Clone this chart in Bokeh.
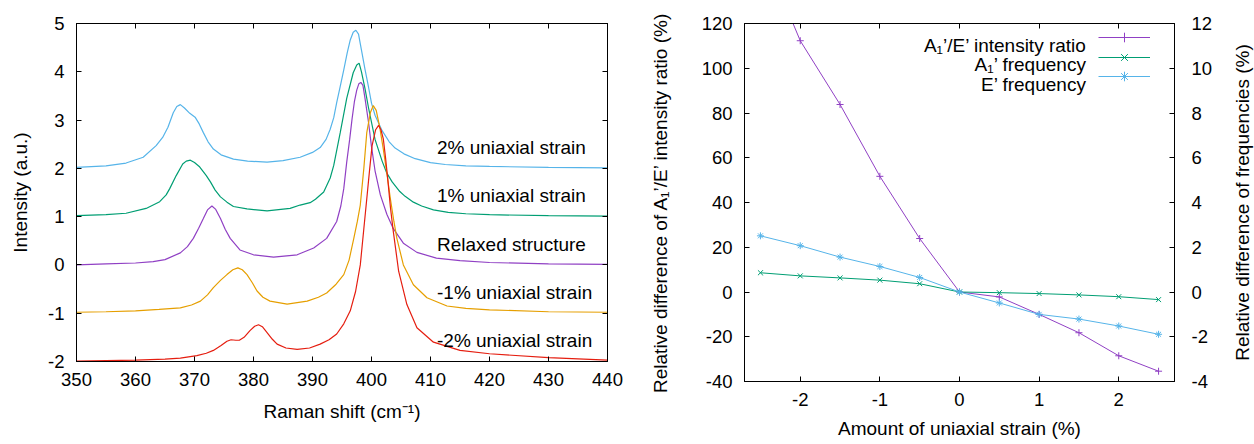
import math
from bokeh.plotting import figure
from bokeh.models import Range1d, LinearAxis, FixedTicker, Label, Legend, LegendItem, Spacer
from bokeh.layouts import row
from bokeh.embed import file_html
from bokeh.resources import INLINE

FONT = "Liberation Sans"
TICK_FS = "18.5px"
LAB_FS = "19px"

PURPLE = "#9040C4"
GREEN = "#009E73"
BLUE = "#56B4E9"
ORANGE = "#E69F00"
RED = "#E51E10"

# ---------------- Left panel: Raman spectra ----------------
raman_ticks = [350, 360, 370, 380, 390, 400, 410, 420, 430, 440]
intensity_ticks = [-2, -1, 0, 1, 2, 3, 4, 5]

shift_p2 = [350, 355, 358.4, 361.3, 363.5, 364.6, 365.5, 366.4, 367.0, 367.6,
            368.3, 369.2, 370.1, 370.8, 371.5, 372.3, 373.2, 374.5, 376.6, 379.0,
            382.3, 385.0, 387.9, 390.0, 391.3, 392.3, 393.0, 393.6, 394.1, 394.7,
            395.3, 395.9, 396.4, 396.9, 397.35, 397.8, 398.3, 398.9, 399.5, 400.0,
            400.6, 401.8, 403.0, 404.0, 405.5, 407.4, 410.0, 412.5, 416.0, 420.0,
            430.0, 440.0]
int_p2 = [2.02, 2.05, 2.11, 2.23, 2.47, 2.64, 2.85, 3.15, 3.28, 3.32,
          3.25, 3.14, 3.06, 2.92, 2.74, 2.55, 2.40, 2.28, 2.19, 2.15,
          2.13, 2.16, 2.23, 2.33, 2.43, 2.60, 2.81, 3.05, 3.36, 3.70,
          4.04, 4.40, 4.66, 4.82, 4.86, 4.78, 4.45, 4.05, 3.68, 3.35,
          3.10, 2.78, 2.55, 2.42, 2.30, 2.20, 2.12, 2.08, 2.05, 2.04,
          2.02, 2.01]

shift_p1 = [350, 355, 358.4, 361.8, 364.1, 365.2, 365.8, 366.9, 368.0, 368.6,
            369.3, 370.0, 370.8, 372.0, 372.7, 373.5, 374.4, 375.5, 376.6, 378.9,
            382.3, 386.2, 387.9, 389.6, 390.5, 391.9, 393.0, 393.6, 394.7, 395.8,
            396.9, 397.5, 397.9, 398.3, 398.9, 399.5, 400.6, 401.8, 402.6, 403.5,
            404.8, 405.7, 407.1, 408.5, 410.5, 413.0, 416.0, 420.0, 430.0, 440.0]
int_p1 = [1.02, 1.04, 1.07, 1.17, 1.31, 1.45, 1.58, 1.85, 2.09, 2.15,
          2.17, 2.12, 2.04, 1.85, 1.72, 1.55, 1.41, 1.30, 1.21, 1.16,
          1.12, 1.17, 1.24, 1.29, 1.36, 1.51, 1.80, 2.06, 2.74, 3.45,
          3.98, 4.14, 4.18, 4.00, 3.65, 3.25, 2.60, 2.15, 1.90, 1.72,
          1.52, 1.42, 1.30, 1.22, 1.14, 1.09, 1.06, 1.04, 1.02, 1.01]

shift_0 = [350, 355, 360, 363, 365, 367.6, 368.8, 369.8, 370.7, 371.5,
           372.2, 372.95, 373.6, 374.4, 375.2, 376.05, 377.7, 380.0, 383.4, 387.4,
           390.2, 392.4, 394.1, 394.8, 395.3, 395.8, 396.3, 396.7, 397.1, 397.5,
           397.85, 398.2, 398.55, 398.9, 399.5, 400.0, 400.6, 401.5, 402.6, 403.7,
           405.4, 407.7, 411.0, 415.0, 420.0, 430.0, 440.0]
int_0 = [0.00, 0.02, 0.04, 0.07, 0.11, 0.25, 0.38, 0.55, 0.76, 0.96,
         1.14, 1.22, 1.15, 0.96, 0.74, 0.55, 0.31, 0.21, 0.16, 0.21,
         0.35, 0.55, 0.90, 1.22, 1.58, 2.13, 2.60, 3.02, 3.38, 3.62,
         3.75, 3.78, 3.72, 3.45, 2.95, 2.45, 1.95, 1.45, 1.05, 0.75,
         0.45, 0.26, 0.14, 0.09, 0.05, 0.02, 0.01]

shift_m1 = [350, 355, 360, 364, 367.6, 369.5, 371.0, 372.2, 373.2, 374.4,
            375.5, 376.5, 377.35, 378.1, 378.9, 379.8, 380.6, 381.6, 382.8, 385.7,
            389.1, 391.0, 392.4, 394.0, 395.3, 396.2, 397.0, 397.6, 398.1, 398.7,
            399.2, 399.8, 400.3, 400.8, 401.4, 402.0, 402.6, 403.2, 403.8, 404.3,
            405.4, 407.1, 409.4, 412.8, 416.0, 420.0, 430.0, 440.0]
int_m1 = [-0.98, -0.97, -0.95, -0.92, -0.89, -0.83, -0.75, -0.62, -0.47, -0.32,
          -0.20, -0.10, -0.06, -0.10, -0.20, -0.37, -0.54, -0.67, -0.75, -0.81,
          -0.75, -0.67, -0.58, -0.40, -0.20, 0.10, 0.55, 0.90, 1.24, 2.00,
          2.74, 3.15, 3.30, 3.20, 2.85, 2.40, 1.90, 1.37, 0.90, 0.55,
          0.00, -0.41, -0.68, -0.85, -0.90, -0.93, -0.97, -0.98]

shift_m2 = [350, 355, 360, 365, 367.6, 370.4, 372.0, 373.2, 374.5, 375.5,
            376.2, 377.0, 377.6, 378.4, 379.4, 380.2, 380.85, 381.5, 382.3, 383.2,
            384.0, 385.5, 387.4, 389.5, 391.3, 392.8, 394.1, 395.3, 396.4, 397.3,
            398.1, 398.7, 399.2, 399.7, 400.1, 400.7, 401.2, 401.6, 402.0, 402.4,
            402.8, 403.2, 403.7, 404.6, 406.0, 407.7, 410.5, 415.0, 420.0, 430.0,
            440.0]
int_m2 = [-1.99, -1.98, -1.97, -1.95, -1.93, -1.88, -1.83, -1.77, -1.67, -1.58,
          -1.55, -1.56, -1.56, -1.50, -1.36, -1.27, -1.24, -1.28, -1.40, -1.54,
          -1.64, -1.72, -1.75, -1.72, -1.64, -1.55, -1.43, -1.22, -0.95, -0.55,
          0.00, 0.75, 1.37, 2.00, 2.47, 2.80, 2.89, 2.80, 2.61, 2.20,
          1.72, 1.20, 0.69, -0.13, -0.82, -1.30, -1.60, -1.77, -1.84, -1.92,
          -1.97]

curve_labels = ["2% uniaxial strain", "1% uniaxial strain", "Relaxed structure",
                "-1% uniaxial strain", "-2% uniaxial strain"]
curve_label_y = [2.435, 1.43, 0.43, -0.577, -1.556]
curve_label_x = 411.1

# ---------------- Right panel: strain dependence ----------------
strain = [-2.5, -2.0, -1.5, -1.0, -0.5, 0.0, 0.5, 1.0, 1.5, 2.0, 2.5]
ratio_diff = [155.0, 112.3, 83.8, 51.7, 23.9, 0.0, -2.2, -10.0, -18.2, -28.5, -35.4]
a1_freq_diff = [0.86, 0.72, 0.63, 0.53, 0.37, 0.0, -0.03, -0.07, -0.13, -0.21, -0.34]
e_freq_diff = [2.51, 2.07, 1.56, 1.14, 0.65, 0.0, -0.49, -1.00, -1.21, -1.52, -1.89]
strain_ticks = [-2, -1, 0, 1, 2]
ratio_ticks = [-40, -20, 0, 20, 40, 60, 80, 100, 120]
freq_ticks = [-4, -2, 0, 2, 4, 6, 8, 10, 12]
legend_labels = ["A\u2081\u2019/E\u2019 intensity ratio", "A\u2081\u2019 frequency", "E\u2019 frequency"]
legend_label_x = 1.596
legend_label_y = [110.3, 101.6, 92.7]
right_axis_label = "Relative difference of frequencies (%)"


def style_axis(ax, ticks, labels=True, standoff=10):
    ax.ticker = FixedTicker(ticks=ticks)
    ax.major_tick_in = 5
    ax.major_tick_out = 0
    ax.minor_tick_line_color = None
    ax.axis_line_color = "black"
    ax.major_tick_line_color = "black"
    ax.major_label_text_font = FONT
    ax.major_label_text_font_size = TICK_FS
    ax.major_label_text_color = "black"
    ax.major_label_standoff = standoff
    ax.axis_label_text_font = FONT
    ax.axis_label_text_font_size = LAB_FS
    ax.axis_label_text_font_style = "normal"
    ax.axis_label_text_color = "black"
    if labels:
        ax.major_label_overrides = {t: str(t) for t in ticks}
    else:
        ax.major_label_text_alpha = 0
        ax.major_label_text_font_size = "1px"
        ax.major_label_standoff = 0
        ax.major_label_overrides = {t: "" for t in ticks}


def base_fig(width, height, xr, yr, mb):
    p = figure(width=width, height=height, x_range=xr, y_range=yr,
               output_backend="svg", toolbar_location=None,
               min_border_left=mb[0], min_border_right=mb[1],
               min_border_top=mb[2], min_border_bottom=mb[3])
    p.xgrid.visible = False
    p.ygrid.visible = False
    p.outline_line_color = "black"
    p.outline_line_width = 1
    p.background_fill_color = "white"
    p.border_fill_color = "white"
    return p


# Left figure (after a 7px spacer): frame 76..607 x 23..364
p1 = base_fig(633, 424, Range1d(350, 440), Range1d(-2, 5), (69, 33, 23, 60))
style_axis(p1.xaxis[0], raman_ticks, standoff=11)
style_axis(p1.yaxis[0], intensity_ticks, standoff=12)
p1.xaxis[0].axis_label = "Raman shift (cm\u207b\u00b9)"
p1.xaxis[0].axis_label_standoff = 12
p1.yaxis[0].axis_label = "Intensity (a.u.)"
p1.yaxis[0].axis_label_standoff = 14
top1 = LinearAxis()
style_axis(top1, raman_ticks, labels=False)
p1.add_layout(top1, "above")
right1 = LinearAxis()
style_axis(right1, intensity_ticks, labels=False)
p1.add_layout(right1, "right")

for xs, ys, c in [(shift_p2, int_p2, BLUE), (shift_p1, int_p1, GREEN),
                  (shift_0, int_0, PURPLE), (shift_m1, int_m1, ORANGE),
                  (shift_m2, int_m2, RED)]:
    p1.line(xs, ys, line_color=c, line_width=1.2)

for txt, yv in zip(curve_labels, curve_label_y):
    p1.add_layout(Label(x=curve_label_x, y=yv, text=txt, text_font=FONT,
                        text_font_size=LAB_FS, text_color="black",
                        text_align="left", text_baseline="alphabetic"))

# Right figure: frame 744..1174 x 23..384
p2 = base_fig(576, 444, Range1d(-2.7, 2.7), Range1d(-40, 120), (104, 42, 23, 60))
p2.extra_y_ranges = {"freq": Range1d(-4, 12)}
style_axis(p2.xaxis[0], strain_ticks, standoff=11)
p2.xaxis[0].axis_label = "Amount of uniaxial strain (%)"
p2.xaxis[0].axis_label_standoff = 9
style_axis(p2.yaxis[0], ratio_ticks, standoff=12)
p2.yaxis[0].axis_label = "Relative difference of A\u2081\u2019/E\u2019 intensity ratio (%)"
p2.yaxis[0].axis_label_standoff = 28
top2 = LinearAxis()
style_axis(top2, strain_ticks, labels=False)
p2.add_layout(top2, "above")
right2 = LinearAxis(y_range_name="freq")
style_axis(right2, freq_ticks, standoff=17)
p2.add_layout(right2, "right")

l1 = p2.line(strain, ratio_diff, line_color=PURPLE, line_width=1)
m1 = p2.scatter(strain, ratio_diff, marker="cross", size=7, line_color=PURPLE, line_width=1)
l2 = p2.line(strain, a1_freq_diff, y_range_name="freq", line_color=GREEN, line_width=1)
m2 = p2.scatter(strain, a1_freq_diff, y_range_name="freq", marker="x", size=7,
                line_color=GREEN, line_width=1)
l3 = p2.line(strain, e_freq_diff, y_range_name="freq", line_color=BLUE, line_width=1)
m3 = p2.scatter(strain, e_freq_diff, y_range_name="freq", marker="asterisk", size=7,
                line_color=BLUE, line_width=1)

# gnuplot-style key: one sample per row, key text right-aligned to its left
for rs, vy in [((l1, m1), 332), ((l2, m2), 312), ((l3, m3), 293)]:
    lg = Legend(items=[LegendItem(label=" ", renderers=list(rs))],
                location=(354, vy), padding=0, margin=0, spacing=0,
                glyph_width=52, glyph_height=24, label_height=24, label_width=1,
                label_standoff=0, label_text_font=FONT, label_text_font_size=LAB_FS,
                background_fill_alpha=0, border_line_color=None)
    p2.add_layout(lg)

for txt, yv in zip(legend_labels, legend_label_y):
    p2.add_layout(Label(x=legend_label_x, y=yv, text=txt, text_font=FONT,
                        text_font_size=LAB_FS, text_color="black",
                        text_align="right", text_baseline="alphabetic"))

# narrow companion figure that only carries the right-hand axis title
p3 = figure(width=38, height=444, x_range=Range1d(0, 1), y_range=Range1d(-4, 12),
            output_backend="svg", toolbar_location=None,
            min_border_left=36, min_border_right=0, min_border_top=23, min_border_bottom=60)
p3.xaxis.visible = False
p3.xgrid.visible = False
p3.ygrid.visible = False
p3.outline_line_color = None
p3.background_fill_color = "white"
p3.border_fill_color = "white"
ya = p3.yaxis[0]
ya.ticker = FixedTicker(ticks=[])
ya.major_tick_in = 0
ya.major_tick_out = 0
ya.minor_tick_line_color = None
ya.axis_line_color = None
ya.major_label_standoff = 0
ya.axis_label = right_axis_label
ya.axis_label_standoff = 0
ya.axis_label_text_font = FONT
ya.axis_label_text_font_size = LAB_FS
ya.axis_label_text_font_style = "normal"
ya.axis_label_text_color = "black"

layout = row(Spacer(width=7, height=424), p1, p2, p3, spacing=0)
open("out.html", "w").write(file_html(layout, INLINE))
